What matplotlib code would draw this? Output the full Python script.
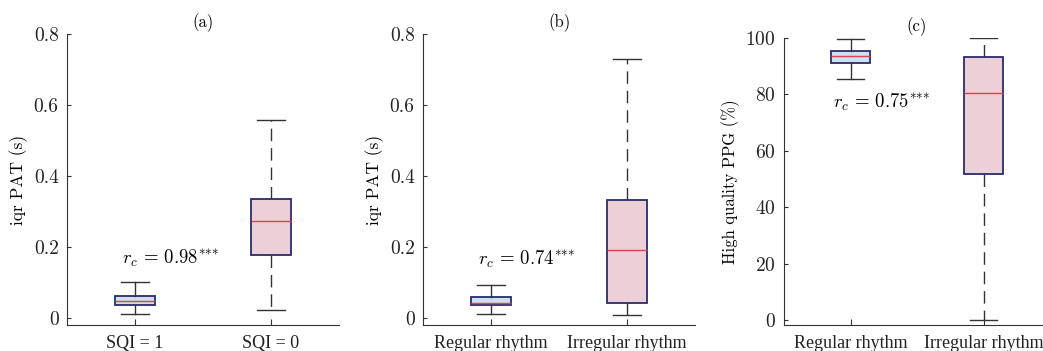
import numpy as np
import matplotlib
matplotlib.use("Agg")
import matplotlib.pyplot as plt

plt.rcParams["font.family"] = ["cmr10", "DejaVu Serif"]
plt.rcParams["mathtext.fontset"] = "cm"
plt.rcParams["axes.formatter.use_mathtext"] = True
plt.rcParams["font.size"] = 12

# --- datos (q1, mediana, q3, bigote inf, bigote sup) ---
etiquetas_a = ["SQI = 1", "SQI = 0"]
q1_a = [0.035, 0.176]
med_a = [0.047, 0.273]
q3_a = [0.063, 0.335]
wlo_a = [0.011, 0.023]
whi_a = [0.101, 0.559]

etiquetas_b = ["Regular rhythm", "Irregular rhythm"]
q1_b = [0.035, 0.042]
med_b = [0.042, 0.190]
q3_b = [0.059, 0.331]
wlo_b = [0.012, 0.009]
whi_b = [0.094, 0.730]

etiquetas_c = ["Regular rhythm", "Irregular rhythm"]
q1_c = [91.3, 51.7]
med_c = [93.6, 80.4]
q3_c = [95.3, 93.4]
wlo_c = [85.5, 0.0]
whi_c = [99.8, 100.0]

rc_a, rc_b, rc_c = "0.98", "0.74", "0.75"

COL_CAJA = ["#cde0ee", "#ecd0d8"]
COL_BORDE = "#2b2b6b"
COL_MED = "#e0404f"
COL_BIG = "#333333"


def cajas(ax, etiquetas, q1, med, q3, wlo, whi):
    stats = []
    for i in range(len(etiquetas)):
        stats.append(dict(label=etiquetas[i], q1=q1[i], med=med[i], q3=q3[i],
                          whislo=wlo[i], whishi=whi[i], fliers=[]))
    bp = ax.bxp(stats, positions=[1, 2], widths=0.3, patch_artist=True,
                showfliers=False, capwidths=0.2)
    for i, caja in enumerate(bp["boxes"]):
        caja.set_facecolor(COL_CAJA[i])
        caja.set_edgecolor(COL_BORDE)
        caja.set_linewidth(1.3)
    for m in bp["medians"]:
        m.set_color(COL_MED)
        m.set_linewidth(1.0)
    for j, w in enumerate(bp["whiskers"]):
        w.set_color(COL_BIG)
        w.set_linewidth(1.0)
        if j >= 2:
            w.set_linestyle((0, (9, 5)))
    for c in bp["caps"]:
        c.set_color(COL_BIG)
        c.set_linewidth(1.0)
    ax.set_xlim(0.5, 2.5)
    ax.spines["top"].set_visible(False)
    ax.spines["right"].set_visible(False)
    for s in ("left", "bottom"):
        ax.spines[s].set_color("#333333")
    ax.tick_params(direction="in", length=3, colors="#333333", labelcolor="#222222")
    ax.tick_params(axis="y", labelsize=14, pad=6)
    ax.tick_params(axis="x", length=4, pad=7)
    for t in ax.get_xticklabels():
        t.set_fontfamily("Liberation Serif")
        t.set_fontsize(13)


def anotar(ax, x, y, rc):
    ax.text(x, y, rf"$r_c\,=\,{rc}^{{\text{{***}}}}$", ha="center", va="center",
            fontsize=13.5)


fig = plt.figure(figsize=(10.43, 3.51), dpi=100)
W, H = 1043, 351

ax_a = fig.add_axes([67 / W, 1 - 325 / H, 272 / W, (325 - 34) / H])
ax_b = fig.add_axes([423 / W, 1 - 325 / H, 272 / W, (325 - 34) / H])
ax_c = fig.add_axes([784 / W, 1 - 325 / H, 266 / W, (325 - 38) / H])

cajas(ax_a, etiquetas_a, q1_a, med_a, q3_a, wlo_a, whi_a)
ax_a.set_ylim(-0.02, 0.8)
ax_a.set_yticks([0, 0.2, 0.4, 0.6, 0.8])
ax_a.set_yticklabels(["0", "0.2", "0.4", "0.6", "0.8"])
ax_a.set_ylabel("iqr PAT (s)", fontsize=12.5)
ax_a.set_title("(a)", fontsize=12, pad=5)
anotar(ax_a, 1.26, 0.169, rc_a)

cajas(ax_b, etiquetas_b, q1_b, med_b, q3_b, wlo_b, whi_b)
ax_b.set_ylim(-0.02, 0.8)
ax_b.set_yticks([0, 0.2, 0.4, 0.6, 0.8])
ax_b.set_yticklabels(["0", "0.2", "0.4", "0.6", "0.8"])
ax_b.set_ylabel("iqr PAT (s)", fontsize=12.5)
ax_b.set_title("(b)", fontsize=12, pad=5)
anotar(ax_b, 1.26, 0.166, rc_b)

cajas(ax_c, etiquetas_c, q1_c, med_c, q3_c, wlo_c, whi_c)
ax_c.set_ylim(-1.8, 100)
ax_c.set_yticks([0, 20, 40, 60, 80, 100])
ax_c.set_ylabel("High quality PPG (%)", fontsize=12)
ax_c.set_title("(c)", fontsize=12, pad=5)
anotar(ax_c, 1.23, 77.0, rc_c)

fig.savefig("out.png", dpi=100)
